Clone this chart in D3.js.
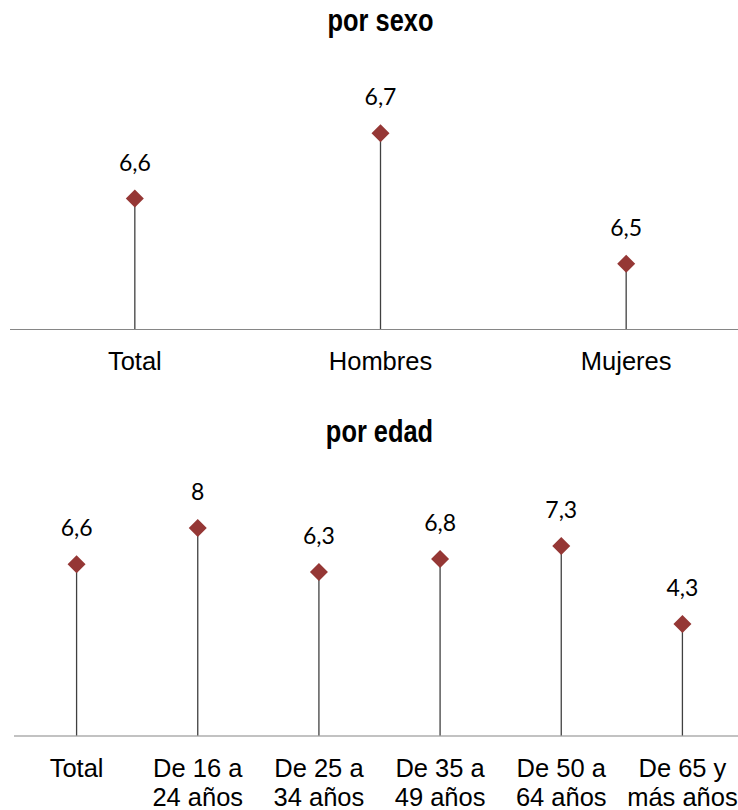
<!DOCTYPE html>
<html>
<head>
<meta charset="utf-8">
<script src="https://cdn.jsdelivr.net/npm/d3@7/dist/d3.min.js"></script>
<style>
  html, body { margin: 0; padding: 0; background: #fff; }
  svg { display: block; }
</style>
</head>
<body>
<svg id="chart" width="738" height="810"></svg>
<script>
// ---- Data ----
const sexTitle = "por sexo";
const sexCategories = ["Total", "Hombres", "Mujeres"];
const sexValues = [6.6, 6.7, 6.5];

const ageTitle = "por edad";
const ageCategories = ["Total", "De 16 a\n24 años", "De 25 a\n34 años", "De 35 a\n49 años", "De 50 a\n64 años", "De 65 y\nmás años"];
const ageValues = [6.6, 8, 6.3, 6.8, 7.3, 4.3];

// ---- Rendering ----
const svg = d3.select("#chart");
const locale = d3.formatLocale({ decimal: ",", thousands: ".", grouping: [3], currency: ["", "€"] });
const fmt = v => (Number.isInteger(v) ? String(v) : locale.format(".1f")(v));

const markColor = "#953735";
const stemColor = "#404040";
const axisColor = "#868686";
const half = 9; // diamond half-diagonal

function drawPanel(opts) {
  const { title, titleY, categories, values, xRange, yDomain, yRange } = opts;
  const g = svg.append("g");

  const x = d3.scaleBand().domain(categories).range(xRange).padding(0);
  const y = d3.scaleLinear().domain(yDomain).range(yRange);
  const cx = c => x(c) + x.bandwidth() / 2;
  const base = yRange[0];

  // title (narrow bold)
  g.append("text")
    .attr("transform", `translate(${(xRange[0] + xRange[1]) / 2},${titleY}) scale(0.82,1)`)
    .attr("text-anchor", "middle")
    .style("font-family", "'Liberation Sans', Arial, sans-serif")
    .style("font-weight", "bold")
    .style("font-size", "31px")
    .attr("fill", "#000")
    .text(title);

  // axis
  const axis = d3.axisBottom(x).tickSize(0).tickSizeOuter(0).tickPadding(0);
  const ax = g.append("g").attr("transform", `translate(0,${base})`).call(axis);
  ax.select(".domain").attr("stroke", axisColor).attr("stroke-width", 1.2)
    .attr("d", `M${xRange[0] - 2},0.5H${xRange[1]}`);
  ax.selectAll(".tick text").each(function (d) {
    const t = d3.select(this);
    t.text(null)
      .attr("y", 0).attr("dy", null)
      .style("font-family", "'Liberation Sans', Arial, sans-serif")
      .style("font-size", "25.5px")
      .attr("fill", "#000");
    d.split("\n").forEach((line, i) => {
      t.append("tspan").attr("x", 0).attr("y", 41 + i * 29).text(line);
    });
  });

  const data = categories.map((c, i) => ({ c, v: values[i] }));

  // stems
  g.selectAll("line.stem").data(data).join("line")
    .attr("class", "stem")
    .attr("x1", d => cx(d.c)).attr("x2", d => cx(d.c))
    .attr("y1", base).attr("y2", d => y(d.v))
    .attr("stroke", stemColor).attr("stroke-width", 1.3);

  // diamonds
  g.selectAll("path.mark").data(data).join("path")
    .attr("class", "mark")
    .attr("transform", d => `translate(${cx(d.c)},${y(d.v)})`)
    .attr("d", `M0,${-half}L${half},0L0,${half}L${-half},0Z`)
    .attr("fill", markColor);

  // value labels
  g.selectAll("text.val").data(data).join("text")
    .attr("class", "val")
    .attr("x", d => cx(d.c))
    .attr("y", d => y(d.v) - 28)
    .attr("text-anchor", "middle")
    .style("font-family", "Lato, 'Open Sans', sans-serif")
    .style("font-size", "23px")
    .attr("fill", "#000")
    .text(d => fmt(d.v));
}

drawPanel({
  title: sexTitle, titleY: 31,
  categories: sexCategories, values: sexValues,
  xRange: [12, 749], yDomain: [6.4, 6.8], yRange: [329, 68]
});

drawPanel({
  title: ageTitle, titleY: 442,
  categories: ageCategories, values: ageValues,
  xRange: [16, 743], yDomain: [0, 10], yRange: [735.5, 476]
});
</script>
</body>
</html>
